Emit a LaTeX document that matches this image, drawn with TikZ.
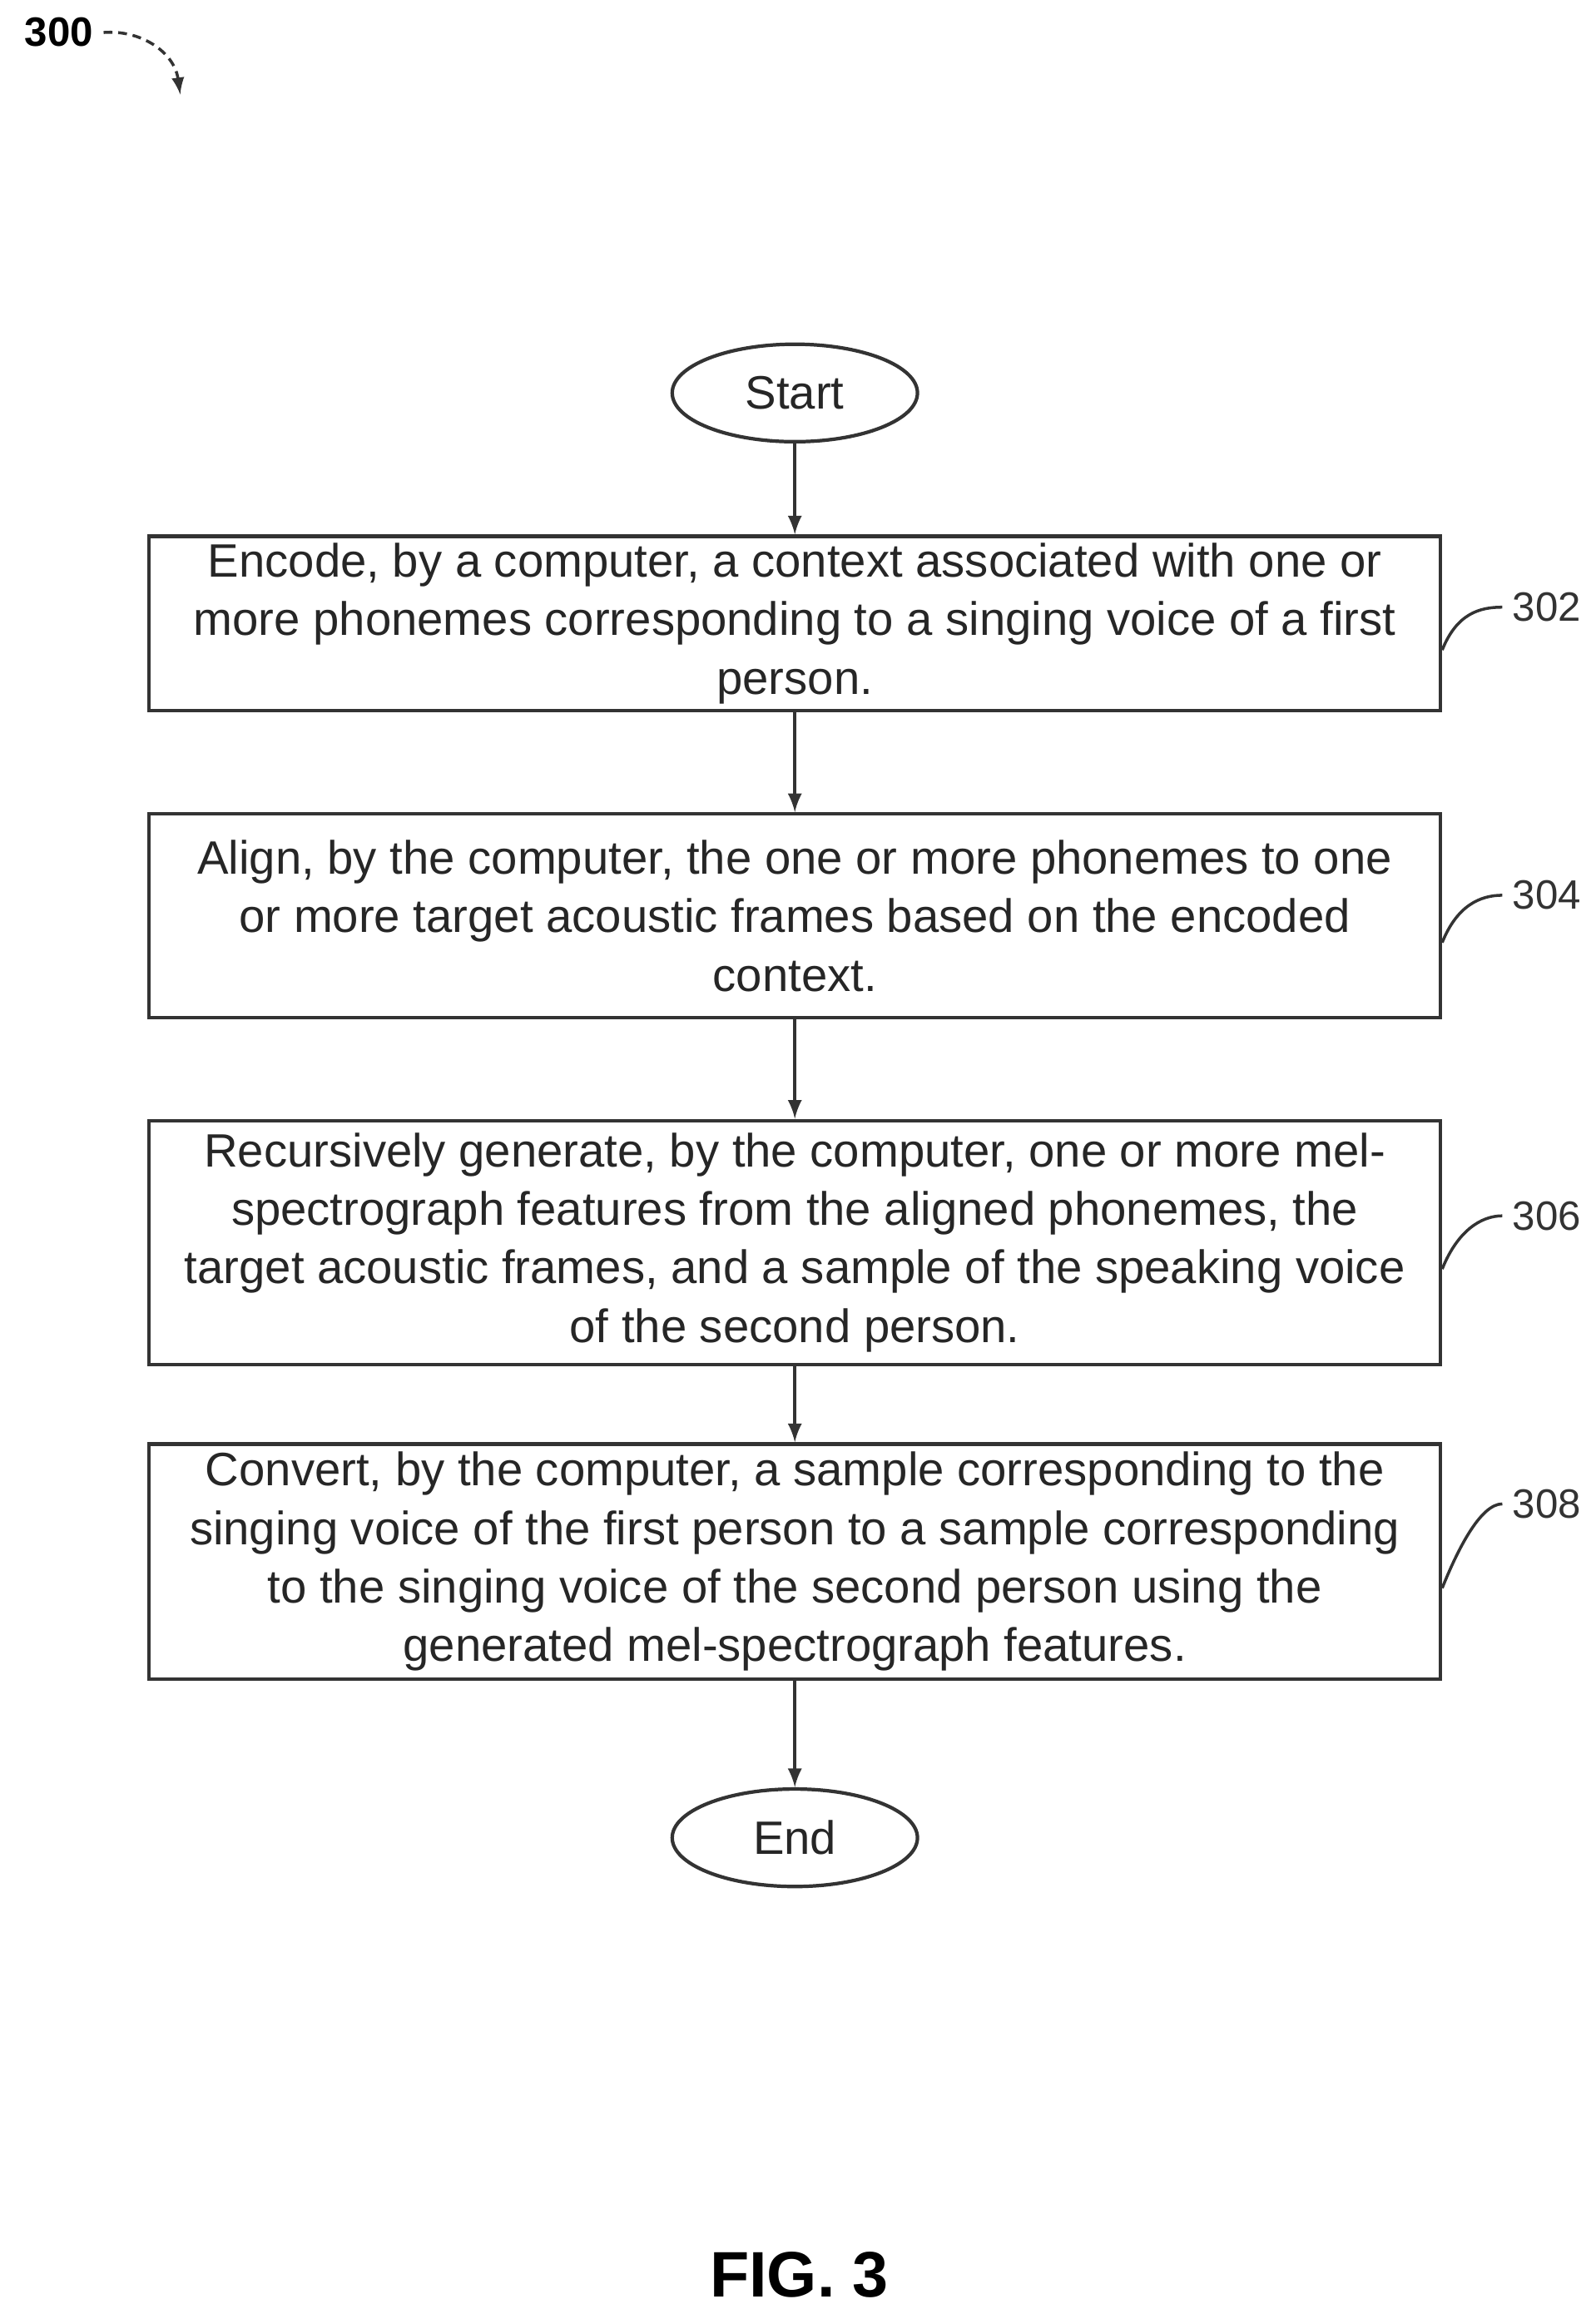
\documentclass[tikz,border=0pt]{standalone}
\usepackage{fontspec}
\setmainfont{Liberation Sans}
\usetikzlibrary{shapes.geometric}
\begin{document}
\begin{tikzpicture}[x=0.01775cm,y=-0.01775cm]
    \tikzset{
      procbox/.style={draw=black!80,line width=1.2pt,minimum width=874*0.01775cm,inner sep=2pt,align=center,font=\fontsize{16}{20}\selectfont,text=black!85},
      term/.style={draw=black!80,line width=1.2pt,ellipse,minimum width=166*0.01775cm,minimum height=66*0.01775cm,font=\fontsize{16}{20}\selectfont,text=black!85},
      flow/.style={-latex,line width=1.2pt,draw=black!80},
      lead/.style={line width=1pt,draw=black!80},
      ref/.style={font=\fontsize{14}{16}\selectfont,text=black!80}
    }
    \useasboundingbox (0,0) rectangle (1080,1563);
    \node [term] (start) at (538,266) {Start};
    \node [procbox,minimum height=118*0.01775cm] (s302) at (538,422) {Encode, by a computer, a context associated with one or\\more phonemes corresponding to a singing voice of a first\\person.};
    \node [procbox,minimum height=138*0.01775cm] (s304) at (538,620) {Align, by the computer, the one or more phonemes to one\\or more target acoustic frames based on the encoded\\context.};
    \node [procbox,minimum height=165*0.01775cm] (s306) at (538,841) {Recursively generate, by the computer, one or more mel-\\spectrograph features from the aligned phonemes, the\\target acoustic frames, and a sample of the speaking voice\\of the second person.};
    \node [procbox,minimum height=159*0.01775cm] (s308) at (538,1057) {Convert, by the computer, a sample corresponding to the\\singing voice of the first person to a sample corresponding\\to the singing voice of the second person using the\\generated mel-spectrograph features.};
    \node [term] (end) at (538,1244) {End};
    \draw [flow] (start) -- (s302);
    \draw [flow] (s302) -- (s304);
    \draw [flow] (s304) -- (s306);
    \draw [flow] (s306) -- (s308);
    \draw [flow] (s308) -- (end);
    % reference numerals
    \node [ref] (n302) at (1047,411) {302};
    \node [ref] (n304) at (1047,606) {304};
    \node [ref] (n306) at (1047,823) {306};
    \node [ref] (n308) at (1047,1018) {308};
    \draw [lead] (s302.east) ++(0,18) .. controls +(10,-25) and +(-15,0) .. (n302.west);
    \draw [lead] (s304.east) ++(0,18) .. controls +(10,-25) and +(-15,0) .. (n304.west);
    \draw [lead] (s306.east) ++(0,18) .. controls +(10,-25) and +(-15,0) .. (n306.west);
    \draw [lead] (s308.east) ++(0,18) .. controls +(10,-25) and +(-15,0) .. (n308.west);
    \node [font=\bfseries\fontsize{14}{16}\selectfont] (n300) at (40,22) {300};
    \coordinate (tip300) at (122,64);
    \draw [-latex,lead,densely dashed] (n300.east) .. controls (95,20) and (118,35) .. (tip300);
    \node [font=\bfseries\fontsize{22}{26}\selectfont] (fig) at (541,1540) {FIG. 3};
\end{tikzpicture}
\end{document}
